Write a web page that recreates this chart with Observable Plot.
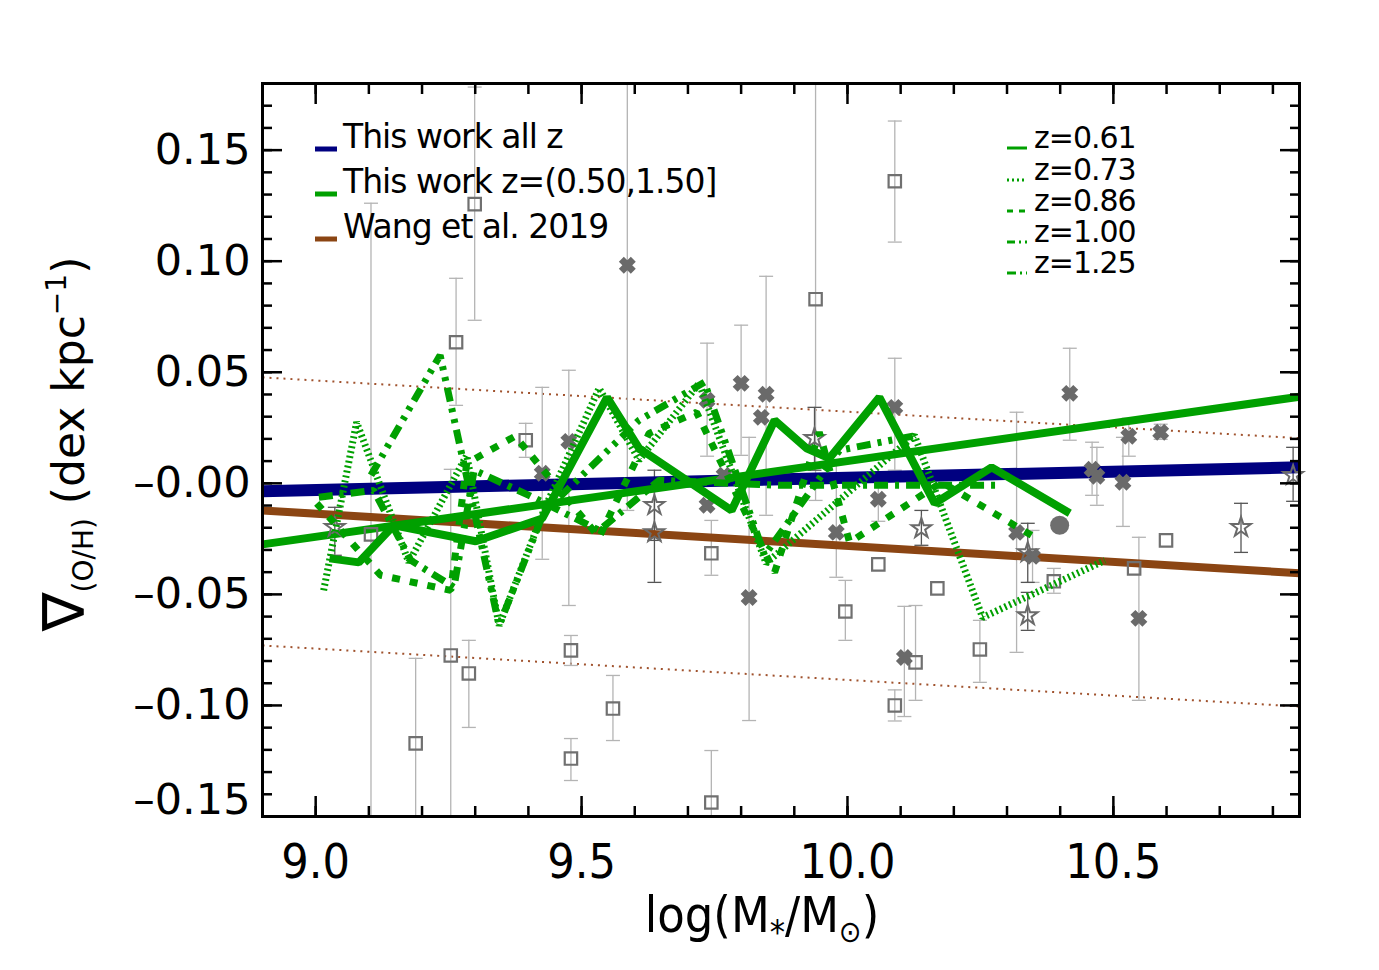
<!DOCTYPE html>
<html><head><meta charset="utf-8">
<script src="https://cdn.jsdelivr.net/npm/d3@7"></script>
<script src="https://cdn.jsdelivr.net/npm/@observablehq/plot@0.6"></script>
<style>
body{margin:0;background:#fff;}
svg{display:block}
.cond text{font-stretch:condensed}
</style>
</head><body><div id="chart"></div>
<script>
// ---------- axes ----------
const xDomain = [8.9, 10.85];
const yDomain = [-0.15, 0.18];
const xMajor = [9.0, 9.5, 10.0, 10.5];
const xTickLabels = ["9.0", "9.5", "10.0", "10.5"];
const xMinor = d3.range(89, 109).map(v => v / 10);
const yMajor = [0.15, 0.10, 0.05, 0.00, -0.05, -0.10, -0.15];
const yTickLabels = ["0.15", "0.10", "0.05", "–0.00", "–0.05", "–0.10", "–0.15"];
const yMinor = d3.range(-15, 19).map(v => v / 100);

// ---------- straight relations ----------
const fitX = [8.9, 10.85];
const allZY = [-0.0036, 0.0072];          // This work all z
const binZY = [-0.0275, 0.0390];          // This work z=(0.50,1.50]
const wangY = [-0.0122, -0.0405];         // Wang et al. 2019
const wangUpY = [0.0477, 0.0203];         // scatter upper
const wangLoY = [-0.0730, -0.1005];       // scatter lower

// ---------- redshift-binned curves ----------
const z061X = [9.026, 9.081, 9.147, 9.301, 9.426, 9.548, 9.608, 9.782, 9.863, 9.923, 9.966, 10.060, 10.164, 10.271, 10.418];
const z061Y = [-0.0338, -0.0356, -0.0189, -0.0261, -0.0158, 0.0387, 0.0158, -0.0122, 0.0284, 0.0158, 0.0113, 0.0387, -0.0090, 0.0072, -0.0135];
const z073X = [9.015, 9.077, 9.175, 9.284, 9.345, 9.429, 9.533, 9.608, 9.721, 9.847, 10.126, 10.254, 10.484];
const z073Y = [-0.0482, 0.0275, -0.0356, 0.0126, -0.0640, -0.0122, 0.0428, 0.0104, 0.0450, -0.0360, 0.0216, -0.0604, -0.0347];
const z086X = [9.002, 9.122, 9.254, 9.284, 9.375, 9.533, 9.627, 9.716, 9.863, 9.947, 10.004, 10.177, 10.362];
const z086Y = [-0.0090, -0.0414, -0.0482, 0.0090, 0.0212, -0.0243, 0.0225, 0.0320, -0.0401, 0.0230, -0.0266, 0.0005, -0.0257];
const z100X = [9.104, 9.234, 9.345, 9.429, 9.608, 9.731, 9.844, 9.985, 10.130];
const z100Y = [0.0036, 0.0577, -0.0640, -0.0131, 0.0284, 0.0455, -0.0324, 0.0149, 0.0216];
const z125X = [9.006, 9.109, 9.179, 9.260, 9.298, 9.401, 9.533, 9.646, 9.872, 10.286];
const z125Y = [-0.0063, -0.0032, -0.0347, -0.0468, 0.0059, -0.0054, -0.0212, 0.0014, -0.0009, -0.0009];

// ---------- literature points ----------
// open squares
const sqX  = [9.104, 9.188, 9.254, 9.264, 9.288, 9.299, 9.395, 9.480, 9.480, 9.559, 9.744, 9.744, 9.940, 9.996, 10.058, 10.089, 10.089, 10.128, 10.169, 10.249, 10.388, 10.539, 10.599];
const sqY  = [-0.0230, -0.1171, -0.0775, 0.0635, -0.0856, 0.1257, 0.0194, -0.1239, -0.0752, -0.1014, -0.0315, -0.1437, 0.0829, -0.0577, -0.0365, 0.1360, -0.1000, -0.0806, -0.0473, -0.0748, -0.0441, -0.0383, -0.0257];
const sqHi = [0.1261, -0.0788, 0.0063, 0.0923, -0.0707, 0.1784, 0.0270, -0.1149, -0.0685, -0.0865, -0.0167, -0.1203, 0.1900, -0.0437, null, 0.1631, -0.0930, -0.0550, null, -0.0617, -0.0383, null, null];
const sqLo = [-0.1700, -0.1700, -0.1700, 0.0351, -0.1099, 0.0734, 0.0117, -0.1338, -0.0820, -0.1158, -0.0414, -0.1700, -0.0077, -0.0707, null, 0.1086, -0.1070, -0.0977, null, -0.0896, -0.0495, null, null];
// filled crosses
const crX  = [9.426, 9.476, 9.586, 9.736, 9.736, 9.768, 9.800, 9.838, 9.847, 9.815, 9.979, 10.058, 10.089, 10.107, 10.318, 10.348, 10.418, 10.460, 10.469, 10.518, 10.529, 10.548, 10.589];
const crY  = [0.0045, 0.0189, 0.0982, 0.0374, -0.0099, 0.0036, 0.0450, 0.0297, 0.0401, -0.0514, -0.0221, -0.0072, 0.0342, -0.0784, -0.0221, -0.0329, 0.0405, 0.0063, 0.0032, 0.0005, 0.0212, -0.0608, 0.0230];
const crHi = [0.0432, 0.0509, 0.1900, 0.0631, null, null, 0.0712, null, 0.0932, 0.0207, 0.0104, 0.0027, 0.0563, -0.0554, 0.0320, -0.0212, 0.0608, 0.0185, 0.0162, 0.0207, 0.0293, -0.0243, 0.0266];
const crLo = [-0.0342, -0.0550, -0.0122, 0.0122, null, null, 0.0126, null, -0.0144, -0.1068, -0.0423, -0.0171, 0.0059, -0.1050, -0.0761, -0.0446, 0.0194, -0.0054, -0.0099, -0.0194, 0.0122, -0.0977, 0.0198];
// open stars
const stX  = [9.036, 9.637, 9.637, 9.938, 10.139, 10.339, 10.339, 10.740, 10.838];
const stY  = [-0.0198, -0.0099, -0.0221, 0.0203, -0.0203, -0.0311, -0.0595, -0.0198, 0.0036];
const stHi = [-0.0108, 0.0059, -0.0009, 0.0342, -0.0122, -0.0180, -0.0491, -0.0090, 0.0162];
const stLo = [-0.0324, -0.0257, -0.0446, 0.0059, -0.0279, -0.0446, -0.0662, -0.0311, -0.0081];
// filled circle
const ciX = [10.399];
const ciY = [-0.0189];

// ---------- legends ----------
const legendLeft = ["This work all z", "This work z=(0.50,1.50]", "Wang et al. 2019"];
const legendRight = ["z=0.61", "z=0.73", "z=0.86", "z=1.00", "z=1.25"];

// ---------- styles ----------
const NAVY = "#000080", GREEN = "#00a000", BROWN = "#8b4513";
const zDash = [null, "2,3", "8,10", "14,7,4,7,4,7", "14,7,4,7"];
const zSets = [[z061X, z061Y], [z073X, z073Y], [z086X, z086Y], [z100X, z100Y], [z125X, z125Y]];

const tbl = (xs, ys, his, los) => xs.map((x, i) => ({x, y: ys[i], hi: his ? his[i] : null, lo: los ? los[i] : null}));
const sq = tbl(sqX, sqY, sqHi, sqLo);
const cr = tbl(crX, crY, crHi, crLo);
const st = tbl(stX, stY, stHi, stLo);
const bars = a => a.filter(d => d.hi != null);
const caps = a => bars(a).flatMap(d => [{x: d.x, y: d.hi}, {x: d.x, y: d.lo}]);
const capSymbol = {draw(ctx) { ctx.moveTo(-7, 0); ctx.lineTo(7, 0); }};
const lineTbl = (ys) => fitX.map((x, i) => ({x, y: ys[i]}));

const marks = [
  Plot.line(lineTbl(wangUpY), {x: "x", y: "y", stroke: "#a0522d", strokeWidth: 2, strokeDasharray: "2,5", strokeLinecap: "butt"}),
  Plot.line(lineTbl(wangLoY), {x: "x", y: "y", stroke: "#a0522d", strokeWidth: 2, strokeDasharray: "2,5", strokeLinecap: "butt"}),
  Plot.ruleX(bars([...sq, ...cr]), {x: "x", y1: "lo", y2: "hi", stroke: "#b4b4b4", strokeWidth: 1.3, clip: true}),
  Plot.dot(caps([...sq, ...cr]), {x: "x", y: "y", symbol: capSymbol, r: 5, stroke: "#b4b4b4", strokeWidth: 1.3, fill: "none", clip: true}),
  Plot.ruleX(bars(st), {x: "x", y1: "lo", y2: "hi", stroke: "#555", strokeWidth: 1.3, clip: true}),
  Plot.dot(caps(st), {x: "x", y: "y", symbol: capSymbol, r: 5, stroke: "#555", strokeWidth: 1.3, fill: "none", clip: true}),
  Plot.line(lineTbl(allZY), {x: "x", y: "y", stroke: NAVY, strokeWidth: 12, strokeLinecap: "butt"}),
  Plot.line(lineTbl(wangY), {x: "x", y: "y", stroke: BROWN, strokeWidth: 8, strokeLinecap: "butt"}),
  Plot.line(lineTbl(binZY), {x: "x", y: "y", stroke: GREEN, strokeWidth: 8, strokeLinecap: "butt"}),
  Plot.dot(sq, {x: "x", y: "y", symbol: "square", r: 7, stroke: "#707070", strokeWidth: 2.2, fill: "none"}),
  Plot.dot(cr, {x: "x", y: "y", symbol: "times", r: 5.5, stroke: "#6a6a6a", strokeWidth: 7, fill: "none"}),
  Plot.dot(st, {x: "x", y: "y", symbol: "star", r: 6.2, stroke: "#6a6a6a", strokeWidth: 2, fill: "none"}),
  Plot.dot(ciX.map((x, i) => ({x, y: ciY[i]})), {x: "x", y: "y", r: 9.5, fill: "#6e6e6e"}),
  ...zSets.map(([xs, ys], k) => Plot.line(xs.map((x, i) => ({x, y: ys[i]})), {
    x: "x", y: "y", stroke: GREEN, strokeWidth: k === 0 ? 8 : 7,
    strokeDasharray: zDash[k], strokeLinecap: "butt", strokeLinejoin: "miter"
  })),
  Plot.frame({stroke: "black", strokeWidth: 3}),
  Plot.axisX(xMajor, {anchor: "bottom", tickSize: -20, tickFormat: () => "", strokeWidth: 2.5, label: null}),
  Plot.axisX(xMinor, {anchor: "bottom", tickSize: -10, tickFormat: () => "", strokeWidth: 2.5, label: null}),
  Plot.axisX(xMajor, {anchor: "top", tickSize: -20, tickFormat: () => "", strokeWidth: 2.5, label: null}),
  Plot.axisX(xMinor, {anchor: "top", tickSize: -10, tickFormat: () => "", strokeWidth: 2.5, label: null}),
  Plot.axisY(yMajor, {anchor: "left", tickSize: -20, tickFormat: () => "", strokeWidth: 2.5, label: null}),
  Plot.axisY(yMinor, {anchor: "left", tickSize: -10, tickFormat: () => "", strokeWidth: 2.5, label: null}),
  Plot.axisY(yMajor, {anchor: "right", tickSize: -20, tickFormat: () => "", strokeWidth: 2.5, label: null}),
  Plot.axisY(yMinor, {anchor: "right", tickSize: -10, tickFormat: () => "", strokeWidth: 2.5, label: null}),
  Plot.text(yMajor.slice(0, 6), {x: xDomain[0], y: d => d, text: yTickLabels.slice(0, 6), textAnchor: "end", dx: -12, fontSize: 43, fill: "black"}),
  Plot.text(yMajor.slice(6), {x: xDomain[0], y: d => d, text: yTickLabels.slice(6), textAnchor: "end", dx: -12, dy: -16, fontSize: 43, fill: "black"}),
  Plot.text(xMajor, {x: d => d, y: yDomain[0], text: xTickLabels, dy: 46, fontSize: 48, fill: "black", className: "cond", fontFamily: "'DejaVu Sans Condensed', 'DejaVu Sans'"})
];

const plot = Plot.plot({
  width: 1379, height: 970,
  marginLeft: 262, marginRight: 80, marginTop: 83, marginBottom: 154,
  x: {domain: xDomain}, y: {domain: yDomain},
  style: {fontFamily: "DejaVu Sans", background: "white", color: "black"},
  marks
});
document.getElementById("chart").appendChild(plot);

// ---------- titles & legends ----------
const svg = d3.select(plot);
const xt = svg.append("text").attr("x", 762).attr("y", 932).attr("text-anchor", "middle")
  .attr("font-family", "'DejaVu Sans Condensed', 'DejaVu Sans'").attr("font-size", 50).style("font-stretch", "condensed").attr("fill", "black");
xt.append("tspan").text("log(M");
xt.append("tspan").text("*").attr("font-size", 34).attr("dy", 12);
xt.append("tspan").text("/M").attr("dy", -12);
xt.append("tspan").text("⊙").attr("font-size", 30).attr("dy", 10);
xt.append("tspan").text(")").attr("dy", -10);

const yt = svg.append("text").attr("transform", "translate(84,444) rotate(-90)").attr("text-anchor", "middle")
  .attr("font-family", "DejaVu Sans").attr("font-size", 44).attr("fill", "black");
yt.append("tspan").text("∇").attr("font-size", 58);
yt.append("tspan").text("(O/H)").attr("font-size", 28).attr("dy", 9);
yt.append("tspan").text(" (dex kpc").attr("dy", -9);
yt.append("tspan").text("−1").attr("font-size", 28).attr("dy", -18);
yt.append("tspan").text(")").attr("dy", 18);

const leftColors = [NAVY, GREEN, BROWN];
const leftBase = [148, 193, 238];
legendLeft.forEach((t, i) => {
  svg.append("line").attr("x1", 315).attr("x2", 337).attr("y1", leftBase[i] + 1).attr("y2", leftBase[i] + 1)
    .attr("stroke", leftColors[i]).attr("stroke-width", 5);
  svg.append("text").attr("x", 343).attr("y", leftBase[i]).attr("text-anchor", "start").text(t)
    .attr("font-family", "DejaVu Sans").attr("font-size", 33).attr("letter-spacing", -1).attr("fill", "black");
});
const rightBase = [148, 180, 211, 242, 273];
const legDash = [null, "2,3", "6,6", "8,4,2,4,2,4", "9,4,2,4"];
legendRight.forEach((t, i) => {
  svg.append("line").attr("x1", 1007).attr("x2", 1027).attr("y1", rightBase[i]).attr("y2", rightBase[i])
    .attr("stroke", GREEN).attr("stroke-width", 3).attr("stroke-dasharray", legDash[i]);
  svg.append("text").attr("x", 1034).attr("y", rightBase[i]).attr("text-anchor", "start").text(t)
    .attr("font-family", "DejaVu Sans").attr("font-size", 30).attr("letter-spacing", -1).attr("fill", "black");
});
</script>
</body></html>
